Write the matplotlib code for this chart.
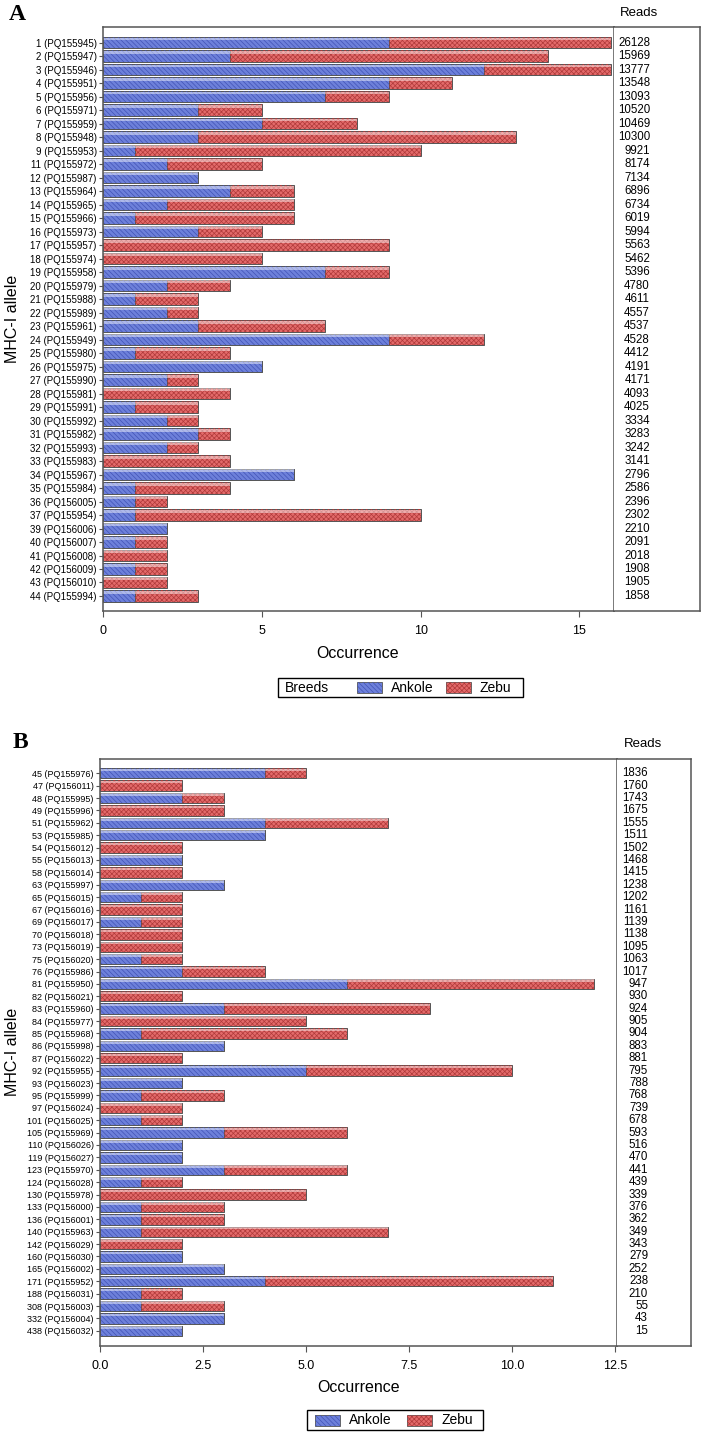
import matplotlib
matplotlib.use("Agg")
import matplotlib.pyplot as plt
from matplotlib.patches import Rectangle

plt.rcParams['font.family'] = ['Liberation Sans', 'DejaVu Sans']
plt.rcParams['hatch.linewidth'] = 0.5

# painel A
alelos_a = [1, 2, 3, 4, 5, 6, 7, 8, 9, 11, 12, 13, 14, 15, 16, 17, 18, 19, 20, 21, 22,
            23, 24, 25, 26, 27, 28, 29, 30, 31, 32, 33, 34, 35, 36, 37, 39, 40, 41, 42, 43, 44]
acessos_a = ["PQ155945", "PQ155947", "PQ155946", "PQ155951", "PQ155956", "PQ155971",
             "PQ155959", "PQ155948", "PQ155953", "PQ155972", "PQ155987", "PQ155964",
             "PQ155965", "PQ155966", "PQ155973", "PQ155957", "PQ155974", "PQ155958",
             "PQ155979", "PQ155988", "PQ155989", "PQ155961", "PQ155949", "PQ155980",
             "PQ155975", "PQ155990", "PQ155981", "PQ155991", "PQ155992", "PQ155982",
             "PQ155993", "PQ155983", "PQ155967", "PQ155984", "PQ156005", "PQ155954",
             "PQ156006", "PQ156007", "PQ156008", "PQ156009", "PQ156010", "PQ155994"]
ankole_a = [9, 4, 12, 9, 7, 3, 5, 3, 1, 2, 3, 4, 2, 1, 3, 0, 0, 7, 2, 1, 2,
            3, 9, 1, 5, 2, 0, 1, 2, 3, 2, 0, 6, 1, 1, 1, 2, 1, 0, 1, 0, 1]
zebu_a = [7, 10, 4, 2, 2, 2, 3, 10, 9, 3, 0, 2, 4, 5, 2, 9, 5, 2, 2, 2, 1,
          4, 3, 3, 0, 1, 4, 2, 1, 1, 1, 4, 0, 3, 1, 9, 0, 1, 2, 1, 2, 2]
reads_a = [26128, 15969, 13777, 13548, 13093, 10520, 10469, 10300, 9921, 8174, 7134,
           6896, 6734, 6019, 5994, 5563, 5462, 5396, 4780, 4611, 4557, 4537, 4528, 4412,
           4191, 4171, 4093, 4025, 3334, 3283, 3242, 3141, 2796, 2586, 2396, 2302, 2210,
           2091, 2018, 1908, 1905, 1858]

# painel B
alelos_b = [45, 47, 48, 49, 51, 53, 54, 55, 58, 63, 65, 67, 69, 70, 73, 75, 76, 81, 82, 83,
            84, 85, 86, 87, 92, 93, 95, 97, 101, 105, 110, 119, 123, 124, 130, 133, 136,
            140, 142, 160, 165, 171, 188, 308, 332, 438]
acessos_b = ["PQ155976", "PQ156011", "PQ155995", "PQ155996", "PQ155962", "PQ155985",
             "PQ156012", "PQ156013", "PQ156014", "PQ155997", "PQ156015", "PQ156016",
             "PQ156017", "PQ156018", "PQ156019", "PQ156020", "PQ155986", "PQ155950",
             "PQ156021", "PQ155960", "PQ155977", "PQ155968", "PQ155998", "PQ156022",
             "PQ155955", "PQ156023", "PQ155999", "PQ156024", "PQ156025", "PQ155969",
             "PQ156026", "PQ156027", "PQ155970", "PQ156028", "PQ155978", "PQ156000",
             "PQ156001", "PQ155963", "PQ156029", "PQ156030", "PQ156002", "PQ155952",
             "PQ156031", "PQ156003", "PQ156004", "PQ156032"]
ankole_b = [4, 0, 2, 0, 4, 4, 0, 2, 0, 3, 1, 0, 1, 0, 0, 1, 2, 6, 0, 3,
            0, 1, 3, 0, 5, 2, 1, 0, 1, 3, 2, 2, 3, 1, 0, 1, 1,
            1, 0, 2, 3, 4, 1, 1, 3, 2]
zebu_b = [1, 2, 1, 3, 3, 0, 2, 0, 2, 0, 1, 2, 1, 2, 2, 1, 2, 6, 2, 5,
          5, 5, 0, 2, 5, 0, 2, 2, 1, 3, 0, 0, 3, 1, 5, 2, 2,
          6, 2, 0, 0, 7, 1, 2, 0, 0]
reads_b = [1836, 1760, 1743, 1675, 1555, 1511, 1502, 1468, 1415, 1238, 1202, 1161, 1139,
           1138, 1095, 1063, 1017, 947, 930, 924, 905, 904, 883, 881, 795, 788, 768, 739,
           678, 593, 516, 470, 441, 439, 339, 376, 362, 349, 343, 279, 252, 238, 210, 55,
           43, 15]

W, H = 709, 1437
azul, azul_hatch = "#6d80da", "#4253b6"
vermelho, vermelho_hatch = "#e36a6a", "#b03a3a"
hatch_azul = "\\" * 7
hatch_verm = "x" * 7
borda = "#555555"
altura = 0.84

fig = plt.figure(figsize=(W / 100, H / 100), dpi=100)


def px(x, y):
    return x / W, 1 - y / H


def painel(l, t, r, b, r2, alelos, acessos, ankole, zebu, reads, xmax, ticks, ticklabels,
           ylim, fs_tick):
    ax = fig.add_axes([l / W, 1 - b / H, (r - l) / W, (b - t) / H])
    y = list(range(len(alelos)))
    total = [a + z for a, z in zip(ankole, zebu)]
    ax.barh(y, ankole, height=altura, color=azul, edgecolor=borda, lw=0.7)
    ax.barh(y, ankole, height=altura, facecolor="none", edgecolor=azul_hatch,
            hatch=hatch_azul, lw=0)
    ax.barh(y, zebu, left=ankole, height=altura, color=vermelho, edgecolor=borda, lw=0.7)
    ax.barh(y, zebu, left=ankole, height=altura, facecolor="none",
            edgecolor=vermelho_hatch, hatch=hatch_verm, lw=0)
    # brilho no topo das barras
    ax.barh([v - altura / 2 + 0.14 for v in y], total, height=0.2, color="white",
            alpha=0.45, lw=0)
    ax.set_xlim(0, xmax)
    ax.set_ylim(*ylim)
    ax.set_yticks(y)
    ax.set_yticklabels([f"{a} ({c})" for a, c in zip(alelos, acessos)], fontsize=fs_tick)
    ax.set_xticks(ticks)
    ax.set_xticklabels(ticklabels, fontsize=9)
    ax.tick_params(axis="y", length=3, pad=1.5, color=borda)
    ax.tick_params(axis="x", length=4, pad=6, color=borda)
    for s in ax.spines.values():
        s.set_color(borda)
        s.set_linewidth(1.1)

    rax = fig.add_axes([r / W, 1 - b / H, (r2 - r) / W, (b - t) / H])
    rax.set_xlim(0, 1)
    rax.set_ylim(*ylim)
    rax.set_xticks([])
    rax.set_yticks([])
    rax.spines["left"].set_visible(False)
    for s in ["top", "right", "bottom"]:
        rax.spines[s].set_color(borda)
        rax.spines[s].set_linewidth(1.1)
    for i, v in enumerate(reads):
        rax.text(0.42, i, str(v), ha="right", va="center", fontsize=8.3)
    return ax


painel(103, 27, 613.7, 610.7, 700, alelos_a, acessos_a, ankole_a, zebu_a, reads_a,
       16.08, [0, 5, 10, 15], ["0", "5", "10", "15"], (42.09, -1.16), 7)
painel(100, 759, 617, 1345.7, 691, alelos_b, acessos_b, ankole_b, zebu_b, reads_b,
       12.55, [0, 2.5, 5, 7.5, 10, 12.5], ["0.0", "2.5", "5.0", "7.5", "10.0", "12.5"],
       (46.2, -1.15), 6.5)

# textos
fig.text(*px(17, 15), "A", fontsize=17, fontweight="bold", family="Liberation Serif",
         ha="center", va="center")
fig.text(*px(20, 743), "B", fontsize=17, fontweight="bold", family="Liberation Serif",
         ha="center", va="center")
fig.text(*px(639, 13), "Reads", fontsize=9.5, ha="center", va="center")
fig.text(*px(643, 744), "Reads", fontsize=9.5, ha="center", va="center")
fig.text(*px(358, 653), "Occurrence", fontsize=11.5, ha="center", va="center")
fig.text(*px(358.5, 1388), "Occurrence", fontsize=11.5, ha="center", va="center")
fig.text(*px(12.5, 319), "MHC-I allele", fontsize=11.5, rotation=90, ha="center", va="center")
fig.text(*px(13, 1052), "MHC-I allele", fontsize=11.5, rotation=90, ha="center", va="center")


def legenda(x0, y0, x1, y1, itens, breeds=False):
    fig.patches.append(Rectangle(px(x0, y1), (x1 - x0) / W, (y1 - y0) / H, fill=False,
                                 ec="black", lw=1, transform=fig.transFigure))
    yc = (y0 + y1) / 2
    if breeds:
        fig.text(*px(x0 + 7, yc), "Breeds", fontsize=10, ha="left", va="center")
    for xp, nome, cor, hc, hatch in itens:
        fig.patches.append(Rectangle(px(xp, yc + 5.5), 25 / W, 11 / H, fc=cor, ec=borda,
                                     lw=0.6, transform=fig.transFigure))
        fig.patches.append(Rectangle(px(xp, yc + 5.5), 25 / W, 11 / H, fc="none", ec=hc,
                                     hatch=hatch, lw=0, transform=fig.transFigure))
        fig.text(*px(xp + 34, yc), nome, fontsize=10, ha="left", va="center")


legenda(278, 678, 523, 697, [(357, "Ankole", azul, azul_hatch, hatch_azul),
                             (446, "Zebu", vermelho, vermelho_hatch, hatch_verm)], breeds=True)
legenda(307, 1410, 483, 1430, [(315, "Ankole", azul, azul_hatch, hatch_azul),
                               (407, "Zebu", vermelho, vermelho_hatch, hatch_verm)])

fig.savefig("out.png", dpi=100)
